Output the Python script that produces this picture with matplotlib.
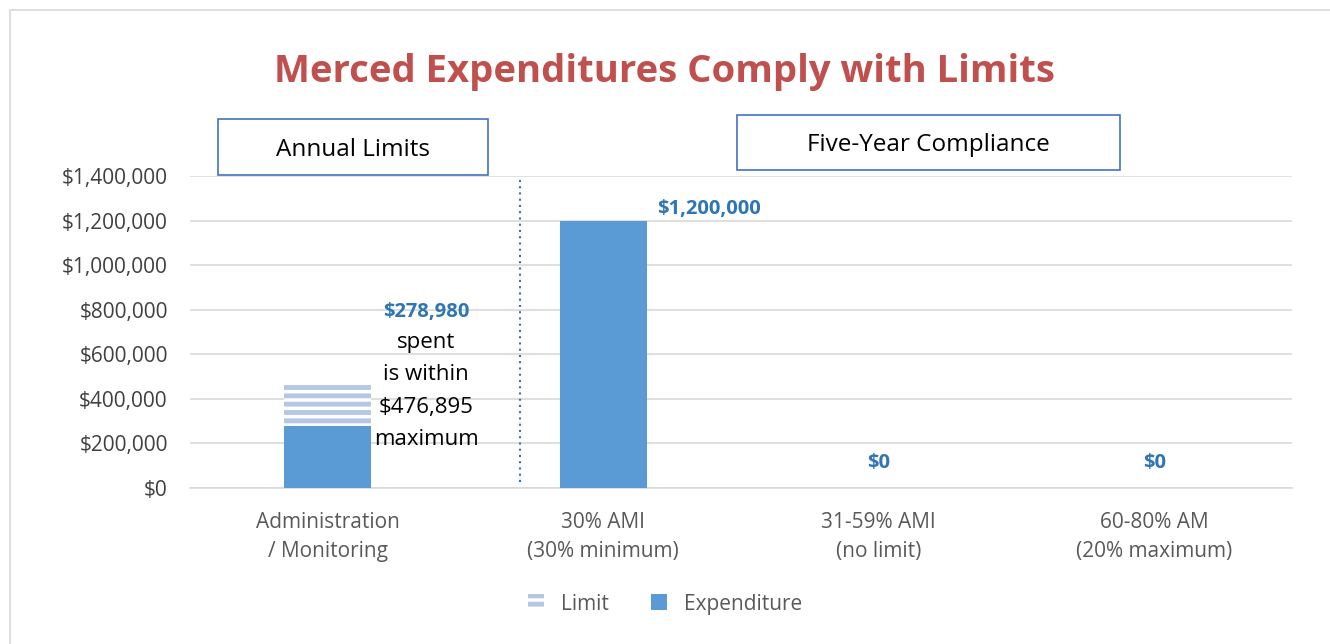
import matplotlib.pyplot as plt
import numpy as np
from matplotlib.patches import Rectangle

plt.rcParams['font.family'] = ['Open Sans', 'DejaVu Sans']
plt.rcParams['hatch.linewidth'] = 3.5

categories = ['Administration\n/ Monitoring', '30% AMI\n(30% minimum)', '31-59% AMI\n(no limit)', '60-80% AM\n(20% maximum)']
limit = [476895, 0, 0, 0]
expenditure = [278980, 1200000, 0, 0]
exp_labels = ['', '$1,200,000', '$0', '$0']
note_lines = ['spent', 'is within', '$476,895', 'maximum']

blue = '#5b9bd5'
light = '#b4c7e7'
label_blue = '#2e75b6'

fig = plt.figure(figsize=(13.3, 6.44), dpi=100)
ax = fig.add_axes([0.1429, 0.2422, 0.8285, 0.4845])

# figure frame
fig.patches.append(Rectangle((0.0075, -0.1), 1.1, 1.085, transform=fig.transFigure,
                             fill=False, edgecolor='#d9d9d9', linewidth=1.2))

x = np.arange(len(categories))
w = 0.316
ax.bar(x, limit, w, facecolor='white', edgecolor=light, hatch='--', linewidth=0, label='Limit', zorder=2)
ax.bar(x, expenditure, w, color=blue, label='Expenditure', zorder=3)

ax.set_xlim(-0.5, 3.5)
ax.set_ylim(0, 1400000)
yt = np.arange(0, 1400001, 200000)
ax.set_yticks(yt)
ax.set_yticklabels(['${:,.0f}'.format(v) for v in yt], fontsize=15, color='#404040')
ax.set_xticks(x)
ax.set_xticklabels(categories, fontsize=15, color='#595959', linespacing=1.5)
ax.tick_params(axis='x', length=0, pad=17)
ax.tick_params(axis='y', length=0, pad=16)
ax.grid(axis='y', color='#d9d9d9', linewidth=1.2, zorder=0)
ax.set_axisbelow(True)
for s in ['top', 'right', 'left']:
    ax.spines[s].set_visible(False)
ax.spines['bottom'].set_color('#d9d9d9')
ax.spines['bottom'].set_linewidth(1.2)

# data labels
ax.text(1 + 0.195, 1200000 + 8000, exp_labels[1], color=label_blue, fontsize=14.5, fontweight='bold', va='bottom', ha='left')
for i in [2, 3]:
    ax.text(i, 112000, exp_labels[i], color=label_blue, fontsize=14.5, fontweight='bold', ha='center', va='center')

# annotation next to admin bar
ax.text(0.357, 789000, '$278,980', color=label_blue, fontsize=14.5, fontweight='bold', ha='center', va='center')
for k, line in enumerate(note_lines):
    ax.text(0.357, 655000 - k * 146000, line, color='black', fontsize=16, ha='center', va='center')

# separator
ax.axvline(0.698, ymin=0.02, ymax=0.995, color=label_blue, linestyle=(0, (1, 2)), linewidth=1.5)

# boxes
for (x0, y0, bw, bh, txt) in [(0.1639, 0.7283, 0.2030, 0.0869, 'Annual Limits'),
                              (0.5541, 0.7360, 0.2880, 0.0854, 'Five-Year Compliance')]:
    fig.patches.append(Rectangle((x0, y0), bw, bh, transform=fig.transFigure,
                                 facecolor='white', edgecolor='#4472c4', linewidth=1.2))
    fig.text(x0 + bw / 2, y0 + bh / 2 - 0.004, txt, fontsize=17.5, ha='center', va='center')

fig.text(0.5, 0.888, 'Merced Expenditures Comply with Limits', fontsize=27.5, fontweight='bold',
         color='#c0504d', ha='center', va='center')

fig.legend(loc='center', bbox_to_anchor=(0.5, 0.062), ncol=2, frameon=False, fontsize=15,
           handlelength=0.8, handleheight=0.8, columnspacing=2, labelcolor='#595959')

fig.savefig('out.png', dpi=100)
